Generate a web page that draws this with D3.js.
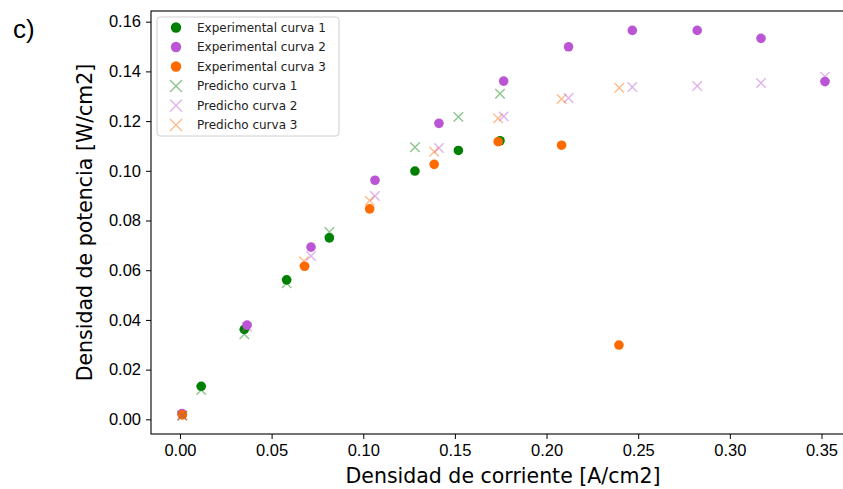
<!DOCTYPE html>
<html>
<head>
<meta charset="utf-8">
<script src="https://cdn.jsdelivr.net/npm/d3@7"></script>
<style>
  body { margin: 0; background: #fff; }
  svg { display: block; font-family: "DejaVu Sans", sans-serif; }
</style>
</head>
<body>
<svg id="chart" width="843" height="489"></svg>
<script>
// experimental points
const exp1X = [0.0013, 0.0116, 0.0351, 0.0582, 0.0815, 0.1282, 0.1519, 0.1746]
const exp1Y = [0.0020, 0.0133, 0.0362, 0.0561, 0.0730, 0.0999, 0.1082, 0.1121]
const exp2X = [0.0011, 0.0366, 0.0715, 0.1064, 0.1413, 0.1766, 0.2120, 0.2468, 0.2822, 0.3170, 0.3519]
const exp2Y = [0.0023, 0.0379, 0.0693, 0.0962, 0.1191, 0.1361, 0.1499, 0.1565, 0.1565, 0.1533, 0.1359]
const exp3X = [0.0013, 0.0680, 0.1035, 0.1387, 0.1736, 0.2082, 0.2395]
const exp3Y = [0.0018, 0.0616, 0.0847, 0.1026, 0.1117, 0.1103, 0.0299]
// predicted points
const pred1X = [0.0013, 0.0116, 0.0351, 0.0582, 0.0815, 0.1282, 0.1519, 0.1746]
const pred1Y = [0.0015, 0.0118, 0.0342, 0.0547, 0.0754, 0.1095, 0.1217, 0.1310]
const pred2X = [0.0011, 0.0366, 0.0715, 0.1064, 0.1413, 0.1766, 0.2120, 0.2468, 0.2822, 0.3170, 0.3519]
const pred2Y = [0.0015, 0.0372, 0.0657, 0.0899, 0.1092, 0.1219, 0.1293, 0.1337, 0.1341, 0.1353, 0.1379]
const pred3X = [0.0013, 0.0676, 0.1035, 0.1387, 0.1736, 0.2082, 0.2397]
const pred3Y = [0.0015, 0.0636, 0.0880, 0.1077, 0.1211, 0.1289, 0.1334]

const xTicks = [0, 0.05, 0.10, 0.15, 0.20, 0.25, 0.30, 0.35]
const yTicks = [0, 0.02, 0.04, 0.06, 0.08, 0.10, 0.12, 0.14, 0.16]

const colors = ['#008000', '#bb55d6', '#ff6a00']
const seriesNames = ['Experimental curva 1', 'Experimental curva 2', 'Experimental curva 3',
                     'Predicho curva 1', 'Predicho curva 2', 'Predicho curva 3']

const series = [
    {name: seriesNames[0], xs: exp1X, ys: exp1Y, color: colors[0], kind: 'dot'},
    {name: seriesNames[1], xs: exp2X, ys: exp2Y, color: colors[1], kind: 'dot'},
    {name: seriesNames[2], xs: exp3X, ys: exp3Y, color: colors[2], kind: 'dot'},
    {name: seriesNames[3], xs: pred1X, ys: pred1Y, color: colors[0], kind: 'cross'},
    {name: seriesNames[4], xs: pred2X, ys: pred2Y, color: colors[1], kind: 'cross'},
    {name: seriesNames[5], xs: pred3X, ys: pred3Y, color: colors[2], kind: 'cross'}
]

const svg = d3.select('#chart')
const plot = {left: 151, right: 858.7, top: 11, bottom: 434}

const xScale = d3.scaleLinear()
    .domain([-0.0158, 0.3703])
    .range([plot.left, plot.right])

const yScale = d3.scaleLinear()
    .domain([-0.0059, 0.1643])
    .range([plot.bottom, plot.top])

// axes
const xAxis = svg.append('g')
    .attr('transform', `translate(0,${plot.bottom})`)
    .call(d3.axisBottom(xScale).tickValues(xTicks).tickFormat(d3.format('.2f')).tickSizeOuter(0).tickSize(5).tickPadding(5))
xAxis.select('.domain').remove()
xAxis.selectAll('text').style('font-size', '16.5px').attr('fill', '#000')

const yAxis = svg.append('g')
    .attr('transform', `translate(${plot.left},0)`)
    .call(d3.axisLeft(yScale).tickValues(yTicks).tickFormat(d3.format('.2f')).tickSizeOuter(0).tickSize(5).tickPadding(5))
yAxis.select('.domain').remove()
yAxis.selectAll('text').style('font-size', '16.5px').attr('fill', '#000')

// spines
svg.append('rect')
    .attr('x', plot.left).attr('y', plot.top)
    .attr('width', plot.right - plot.left).attr('height', plot.bottom - plot.top)
    .attr('fill', 'none').attr('stroke', '#000').attr('stroke-width', 1.1)

// marks
const cross = d3.symbol().type(d3.symbolX).size(60)
const marks = svg.append('g')
series.forEach(s => {
    const pts = s.xs.map((x, i) => ({x: x, y: s.ys[i]}))
    if (s.kind === 'dot') {
        marks.append('g').selectAll('circle')
            .data(pts)
            .join('circle')
            .attr('cx', d => xScale(d.x))
            .attr('cy', d => yScale(d.y))
            .attr('r', 4.8)
            .attr('fill', s.color)
    } else {
        marks.append('g').selectAll('path')
            .data(pts)
            .join('path')
            .attr('transform', d => `translate(${xScale(d.x)},${yScale(d.y)})`)
            .attr('d', cross)
            .attr('fill', 'none')
            .attr('stroke', s.color)
            .attr('stroke-width', 1.4)
            .attr('stroke-opacity', 0.45)
    }
})

// legend
const legend = svg.append('g').attr('transform', 'translate(157,17)')
legend.append('rect')
    .attr('width', 182).attr('height', 119)
    .attr('rx', 3)
    .attr('fill', '#fff').attr('fill-opacity', 0.8)
    .attr('stroke', '#d0d0d0')
const rows = legend.selectAll('g.row')
    .data(series)
    .join('g')
    .attr('class', 'row')
    .attr('transform', (d, i) => `translate(19,${10.5 + i * 19.5})`)
rows.each(function (s) {
    const g = d3.select(this)
    if (s.kind === 'dot') {
        g.append('circle').attr('r', 5.2).attr('fill', s.color)
    } else {
        g.append('path').attr('d', d3.symbol().type(d3.symbolX).size(95))
            .attr('fill', 'none').attr('stroke', s.color)
            .attr('stroke-width', 1.4).attr('stroke-opacity', 0.45)
    }
})
rows.append('text')
    .attr('x', 21)
    .attr('dy', '0.35em')
    .style('font-size', '12px')
    .attr('fill', '#222')
    .text(d => d.name)

// axis titles
svg.append('text')
    .attr('x', 503)
    .attr('y', 483)
    .style('font-size', '20.5px')
    .style('text-anchor', 'middle')
    .text('Densidad de corriente [A/cm2]')

svg.append('text')
    .attr('transform', `translate(92,${(plot.top + plot.bottom) / 2}) rotate(-90)`)
    .style('font-size', '20.5px')
    .style('text-anchor', 'middle')
    .text('Densidad de potencia [W/cm2]')

svg.append('text')
    .attr('x', 13).attr('y', 38)
    .style('font-family', '"Liberation Sans", Arial, sans-serif')
    .style('font-size', '26px')
    .text('c)')
</script>
</body>
</html>
